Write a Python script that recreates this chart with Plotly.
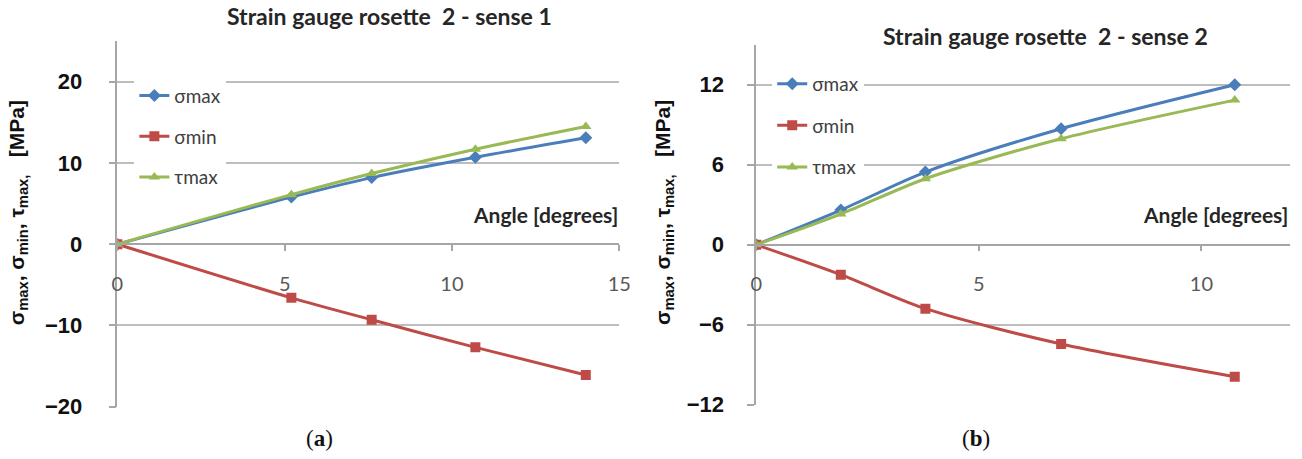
import plotly.graph_objects as go

W, H = 1302, 459

# ---------------- data ----------------
angle_a = [0, 5.2, 7.6, 10.7, 14.0]
smax_a = [0, 5.8, 8.2, 10.7, 13.1]
smin_a = [0, -6.6, -9.3, -12.7, -16.1]
tmax_a = [0, 6.1, 8.7, 11.7, 14.5]

angle_b = [0, 1.9, 3.8, 6.85, 10.75]
smax_b = [0, 2.6, 5.45, 8.7, 12.0]
smin_b = [0, -2.25, -4.8, -7.45, -9.9]
tmax_b = [0, 2.3, 4.95, 7.95, 10.85]

names = ["σmax", "σmin", "τmax"]
titles = ["Strain gauge rosette  2 - sense 1", "Strain gauge rosette  2 - sense 2"]
xticks_a = [0, 5, 10, 15]
yticks_a = [-20, -10, 0, 10, 20]
xticks_b = [0, 5, 10]
yticks_b = [-12, -6, 0, 6, 12]

colors = ["#4A7EBB", "#BE4B48", "#98B954"]
symbols = ["diamond", "square", "triangle-up"]
msizes = [10, 10, 10]


# map a target screen position to figure pixels (empirical), then to paper
def fx(t):
    return min((t - 5.6) / 0.9864, W) / W


def fy(t):
    return 1 - ((t + 0.8) / 0.972) / H


fig = go.Figure()

series = [
    (angle_a, [smax_a, smin_a, tmax_a], "x", "y", "legend"),
    (angle_b, [smax_b, smin_b, tmax_b], "x2", "y2", "legend2"),
]
for k, (xs, ys_list, xa, ya, lg) in enumerate(series):
    for i, ys in enumerate(ys_list):
        fig.add_trace(go.Scatter(
            x=xs, y=ys, name=names[i], mode="lines+markers",
            line=dict(color=colors[i], width=3, shape="spline", smoothing=0.8),
            marker=dict(symbol=symbols[i], size=msizes[i], color=colors[i]),
            xaxis=xa, yaxis=ya, legend=lg, legendgroup=f"{k}{i}",
        ))

grid = "#BDBDBD"
axline = "#A6A6A6"

# axis geometry
# left: x 0 -> 117, 15 -> 619 ; y 20 -> 81, -20 -> 406
xa_dom = [fx(117), fx(619)]
ya_dom = [fy(406), fy(406 - (406 - 81) / 40 * 45)]
ya_rng = [-20, 25]
# right: x 0 -> 756, 10 -> 1203 ; y 12 -> 84, -12 -> 404
b_px_per = (1203 - 756) / 10
b_end = 1292
xb_rng_end = (b_end - 756) / b_px_per
xb_dom = [fx(756), fx(b_end)]
yb_dom = [fy(404), fy(404 - (404 - 84) / 24 * 27)]
yb_rng = [-12, 15]


def zero_pos(dom, rng):
    return dom[0] + (0 - rng[0]) / (rng[1] - rng[0]) * (dom[1] - dom[0])


xcommon = dict(
    anchor="free", showline=True, linecolor=axline, linewidth=1.5,
    ticks="outside", ticklen=6, tickcolor=axline, tickwidth=1.5,
    showgrid=False, zeroline=False,
    tickfont=dict(family="Lato", size=20, color="#595959"),
    ticklabelstandoff=16,
)
ycommon = dict(
    showline=True, linecolor=axline, linewidth=1.5,
    ticks="outside", ticklen=7, tickcolor=axline, tickwidth=1.5,
    showgrid=True, gridcolor=grid, gridwidth=1.5, zeroline=False,
    tickfont=dict(family="Liberation Sans", size=22, color="#111111", weight="bold"),
)

legfont = dict(family="Lato", size=19, color="#404040")
fig.update_layout(
    width=W, height=H,
    margin=dict(l=0, r=0, t=0, b=0),
    paper_bgcolor="white", plot_bgcolor="white",
    showlegend=True,
    xaxis=dict(domain=xa_dom, range=[0, 15], tickvals=xticks_a,
               position=zero_pos(ya_dom, ya_rng), **xcommon),
    yaxis=dict(domain=ya_dom, range=ya_rng, tickvals=yticks_a, anchor="x",
               ticklabelstandoff=22, **ycommon),
    xaxis2=dict(domain=xb_dom, range=[0, xb_rng_end], tickvals=xticks_b,
                position=zero_pos(yb_dom, yb_rng), **xcommon),
    yaxis2=dict(domain=yb_dom, range=yb_rng, tickvals=yticks_b, anchor="x2",
                ticklabelstandoff=19, **ycommon),
    legend=dict(x=fx(134), y=fy(76), xanchor="left", yanchor="top",
                bgcolor="white", borderwidth=0, tracegroupgap=13,
                font=legfont, itemwidth=30),
    legend2=dict(x=fx(772), y=fy(64), xanchor="left", yanchor="top",
                 bgcolor="white", borderwidth=0, tracegroupgap=14,
                 font=legfont, itemwidth=30),
)

ann = []
# chart titles
ann.append(dict(x=fx(389), y=fy(15), text=f"<b>{titles[0]}</b>",
                font=dict(family="Lato", size=23, color="#262626")))
ann.append(dict(x=fx(1045), y=fy(35), text=f"<b>{titles[1]}</b>",
                font=dict(family="Lato", size=23, color="#262626")))
# x axis titles
for xr in (620, 1290):
    ann.append(dict(x=fx(xr), y=fy(214), xanchor="right", text="<b>Angle [degrees]</b>",
                    font=dict(family="Lato", size=21, color="#262626")))
# y axis titles
ytitle = "<b>σ<sub>max</sub>, σ<sub>min</sub>, τ<sub>max,</sub>   [MPa]</b>"
for xc in (17, 663):
    ann.append(dict(x=fx(xc), y=fy(212), text=ytitle, textangle=-90,
                    font=dict(family="Liberation Sans", size=21, color="#111111")))
# captions
ann.append(dict(x=fx(319), y=fy(438), text="(<b>a</b>)",
                font=dict(family="Liberation Serif", size=23, color="#111111")))
ann.append(dict(x=fx(976), y=fy(438), text="(<b>b</b>)",
                font=dict(family="Liberation Serif", size=23, color="#111111")))

for a in ann:
    a.update(xref="paper", yref="paper", showarrow=False)
    a.setdefault("xanchor", "center")
    a.setdefault("yanchor", "middle")
fig.update_layout(annotations=ann)

post = (
    "var s=document.createElement('style');"
    "s.textContent='html,body{margin:0;padding:0;overflow:hidden;width:1302px;height:459px;}';"
    "document.head.appendChild(s);"
)
fig.write_html("out.html", config={"displayModeBar": False}, post_script=post)
